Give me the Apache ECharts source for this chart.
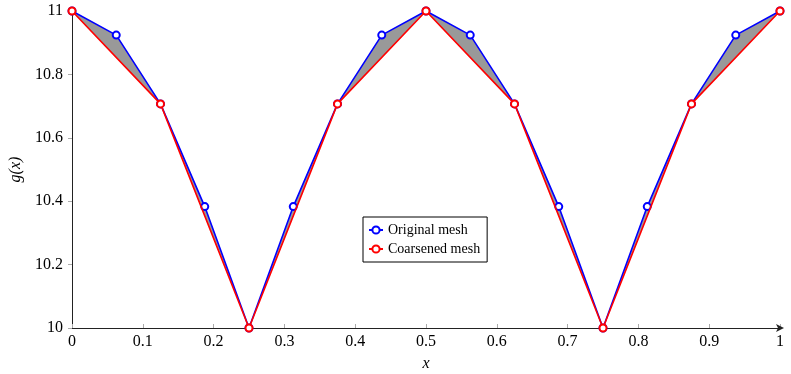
<!DOCTYPE html>
<html>
<head>
<meta charset="utf-8">
<script src="https://cdn.jsdelivr.net/npm/echarts@6/dist/echarts.min.js"></script>
<style>
  html, body { margin: 0; padding: 0; background: #fff; }
  #chart { width: 791px; height: 374px; }
</style>
</head>
<body>
<div id="chart"></div>
<script>
// original mesh: nodes at k/16
const origX = [0, 0.0625, 0.125, 0.1875, 0.25, 0.3125, 0.375, 0.4375, 0.5,
               0.5625, 0.625, 0.6875, 0.75, 0.8125, 0.875, 0.9375, 1];
const origY = [11, 10.924, 10.707, 10.383, 10, 10.383, 10.707, 10.924, 11,
               10.924, 10.707, 10.383, 10, 10.383, 10.707, 10.924, 11];
// coarsened mesh: nodes at k/8
const coarseX = [0, 0.125, 0.25, 0.375, 0.5, 0.625, 0.75, 0.875, 1];
const coarseY = [11, 10.707, 10, 10.707, 11, 10.707, 10, 10.707, 11];

const seriesNames = ['Original mesh', 'Coarsened mesh'];

const pairs = (xs, ys) => xs.map((x, i) => [x, ys[i]]);
const origPts = pairs(origX, origY);
const coarsePts = pairs(coarseX, coarseY);

const font = 'Liberation Serif';
const chart = echarts.init(document.getElementById('chart'));

const option = {
  animation: false,
  textStyle: { fontFamily: font },
  grid: { left: 72, right: 11, top: 11, bottom: 46, containLabel: false, outerBoundsMode: 'none' },
  legend: {
    data: seriesNames,
    orient: 'vertical',
    left: 363,
    top: 217,
    backgroundColor: '#fff',
    borderColor: '#000',
    borderWidth: 1,
    borderRadius: 0,
    padding: [6, 7, 6, 5],
    itemGap: 5,
    itemWidth: 14,
    itemHeight: 9,
    textStyle: { fontFamily: font, fontSize: 14, color: '#000' }
  },
  xAxis: {
    type: 'value',
    min: 0, max: 1, interval: 0.1,
    name: 'x',
    nameLocation: 'middle',
    nameGap: 28,
    nameTextStyle: { fontFamily: font, fontStyle: 'italic', fontSize: 16, color: '#000' },
    axisLine: { show: true, symbol: ['none', 'arrow'], symbolSize: [6, 8], symbolOffset: [0, 4],
                lineStyle: { color: '#222', width: 1 } },
    axisTick: { show: true, inside: true, length: 4, lineStyle: { color: '#aaa' } },
    axisLabel: { fontFamily: font, fontSize: 16, color: '#000', margin: 6 },
    splitLine: { show: false }
  },
  yAxis: {
    type: 'value',
    min: 10, max: 11, interval: 0.2,
    name: 'g(x)',
    nameLocation: 'middle',
    nameRotate: 90,
    nameGap: 47,
    nameTextStyle: { fontFamily: font, fontStyle: 'italic', fontSize: 16, color: '#000' },
    axisLine: { show: true, lineStyle: { color: '#222', width: 1 } },
    axisTick: { show: true, length: 4, lineStyle: { color: '#aaa' } },
    axisLabel: { fontFamily: font, fontSize: 16, color: '#000', margin: 9 },
    splitLine: { show: false }
  },
  series: [
    {
      // gray region between the two meshes
      type: 'custom',
      silent: true,
      z: 1,
      data: [[0, 10]],
      renderItem: function (params, api) {
        const poly = origPts.concat(coarsePts.slice().reverse()).map(p => api.coord(p));
        return {
          type: 'polygon',
          shape: { points: poly },
          style: { fill: '#999999', stroke: null }
        };
      }
    },
    {
      name: seriesNames[0],
      type: 'line',
      z: 3,
      data: origPts,
      symbol: 'emptyCircle',
      symbolSize: 7,
      lineStyle: { color: '#0000ff', width: 1.6 },
      itemStyle: { color: '#0000ff', borderWidth: 1.6 }
    },
    {
      name: seriesNames[1],
      type: 'line',
      z: 4,
      data: coarsePts,
      symbol: 'emptyCircle',
      symbolSize: 7,
      lineStyle: { color: '#ff0000', width: 1.6 },
      itemStyle: { color: '#ff0000', borderWidth: 1.6 }
    }
  ]
};

chart.setOption(option);
</script>
</body>
</html>
